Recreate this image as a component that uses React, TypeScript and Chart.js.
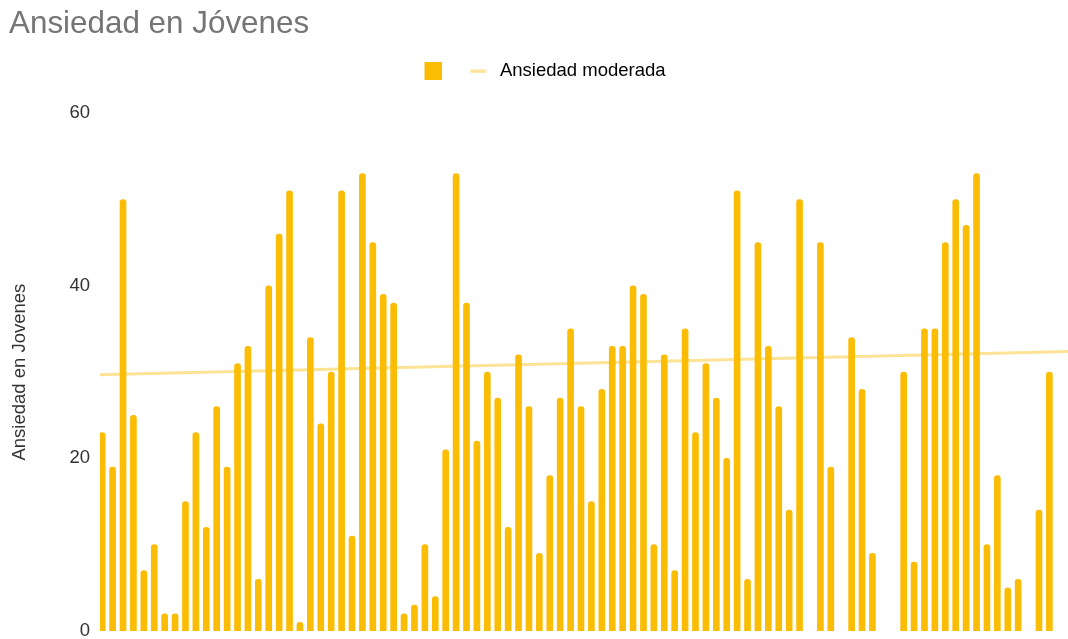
import React, { useEffect, useRef } from 'react';
import { Chart, registerables } from 'chart.js';

Chart.register(...registerables);

// Anxiety score per respondent (null = empty category)
const anxietyValues: (number | null)[] = [
  23, 19, 50, 25, 7, 10, 2, 2, 15, 23,
  12, 26, 19, 31, 33, 6, 40, 46, 51, 1,
  34, 24, 30, 51, 11, 53, 45, 39, 38, 2,
  3, 10, 4, 21, 53, 38, 22, 30, 27, 12,
  32, 26, 9, 18, 27, 35, 26, 15, 28, 33,
  33, 40, 39, 10, 32, 7, 35, 23, 31, 27,
  20, 51, 6, 45, 33, 26, 14, 50, null, 45,
  19, null, 34, 28, 9, null, null, 30, 8, 35,
  35, 45, 50, 47, 53, 10, 18, 5, 6, null,
  14, 30, null,
];
const categories: string[] = anxietyValues.map((_, i) => String(i + 1));

// Linear trend line ("Ansiedad moderada"): start and end of the plotted range
const trendX: number[] = [0, 1];
const trendY: number[] = [29.7, 32.4];

const yTicks: number[] = [0, 20, 40, 60];

const FONT = "'Liberation Sans', Arial, sans-serif";
const BAR_COLOR = '#FBBC04';
const TREND_COLOR = 'rgba(251, 188, 4, 0.42)';
const TEXT_COLOR = '#333333';

function makeSquareMarker(): HTMLCanvasElement {
  const c = document.createElement('canvas');
  c.width = 40;
  c.height = 18;
  const g = c.getContext('2d')!;
  g.fillStyle = BAR_COLOR;
  g.fillRect(22, 0, 18, 18);
  return c;
}

function makeLineMarker(): HTMLCanvasElement {
  const c = document.createElement('canvas');
  c.width = 22;
  c.height = 4;
  const g = c.getContext('2d')!;
  g.fillStyle = TREND_COLOR;
  g.fillRect(1.5, 0.5, 16, 3.3);
  return c;
}

export default function App() {
  const canvasRef = useRef<HTMLCanvasElement | null>(null);

  useEffect(() => {
    if (!canvasRef.current) return;
    const squareMarker = makeSquareMarker();
    const lineMarker = makeLineMarker();

    const chart = new Chart(canvasRef.current, {
      type: 'bar',
      data: {
        labels: categories,
        datasets: [
          {
            type: 'bar',
            label: '',
            data: anxietyValues,
            backgroundColor: BAR_COLOR,
            borderWidth: 0,
            borderRadius: 3,
            barThickness: 6,
            xAxisID: 'x',
            yAxisID: 'y',
            order: 1,
          } as any,
          {
            type: 'line',
            label: 'Ansiedad moderada',
            data: trendX.map((x, i) => ({ x, y: trendY[i] })),
            borderColor: TREND_COLOR,
            borderWidth: 3,
            pointRadius: 0,
            fill: false,
            xAxisID: 'x2',
            yAxisID: 'y',
            order: 2,
          } as any,
        ],
      },
      options: {
        animation: false,
        responsive: true,
        maintainAspectRatio: false,
        layout: { padding: { left: 9, right: 0, top: 0, bottom: 0 } },
        plugins: {
          title: {
            display: true,
            text: 'Ansiedad en Jóvenes',
            align: 'start',
            color: '#757575',
            font: { family: FONT, size: 31.4, weight: 'normal', lineHeight: 0.75 },
            padding: { top: 12.3, bottom: 0 },
          },
          legend: {
            display: true,
            position: 'top',
            align: 'center',
            labels: {
              usePointStyle: true,
              boxWidth: 22,
              boxHeight: 18,
              pointStyleWidth: 22,
              padding: 26,
              color: TEXT_COLOR,
              font: { family: FONT, size: 18.5 },
              generateLabels: () => [
                {
                  text: '',
                  fillStyle: BAR_COLOR,
                  strokeStyle: BAR_COLOR,
                  lineWidth: 0,
                  pointStyle: squareMarker,
                  hidden: false,
                  datasetIndex: 0,
                },
                {
                  text: 'Ansiedad moderada',
                  fillStyle: TREND_COLOR,
                  strokeStyle: TREND_COLOR,
                  lineWidth: 0,
                  pointStyle: lineMarker,
                  hidden: false,
                  datasetIndex: 1,
                },
              ],
            },
          },
          tooltip: { enabled: false },
        },
        scales: {
          x: {
            type: 'category',
            display: false,
            offset: true,
            grid: { display: false },
          },
          x2: {
            type: 'linear',
            position: 'top',
            display: true,
            offset: false,
            min: 0,
            max: 1,
            ticks: { display: false },
            grid: { display: false, drawTicks: false },
            border: { display: false },
            afterFit: (scale: any) => {
              scale.height = 22.85;
            },
          },
          y: {
            min: yTicks[0],
            max: yTicks[yTicks.length - 1],
            afterBuildTicks: (scale: any) => {
              scale.ticks = yTicks.map((v) => ({ value: v }));
            },
            ticks: {
              color: TEXT_COLOR,
              font: { family: FONT, size: 18.5 },
              padding: 10,
            },
            grid: { display: false, drawTicks: false },
            border: { display: false },
            title: {
              display: true,
              text: 'Ansiedad en Jovenes',
              color: TEXT_COLOR,
              font: { family: FONT, size: 18.5 },
              padding: { top: 0, bottom: 0 },
            },
            afterFit: (scale: any) => {
              scale.width = 91;
              scale.paddingBottom = 8;
            },
          },
        },
      } as any,
    });
    return () => chart.destroy();
  }, []);

  return (
    <div
      style={{
        position: 'fixed',
        left: 0,
        top: 0,
        width: 1068,
        height: 639,
        background: '#ffffff',
      }}
    >
      <canvas ref={canvasRef} />
    </div>
  );
}
